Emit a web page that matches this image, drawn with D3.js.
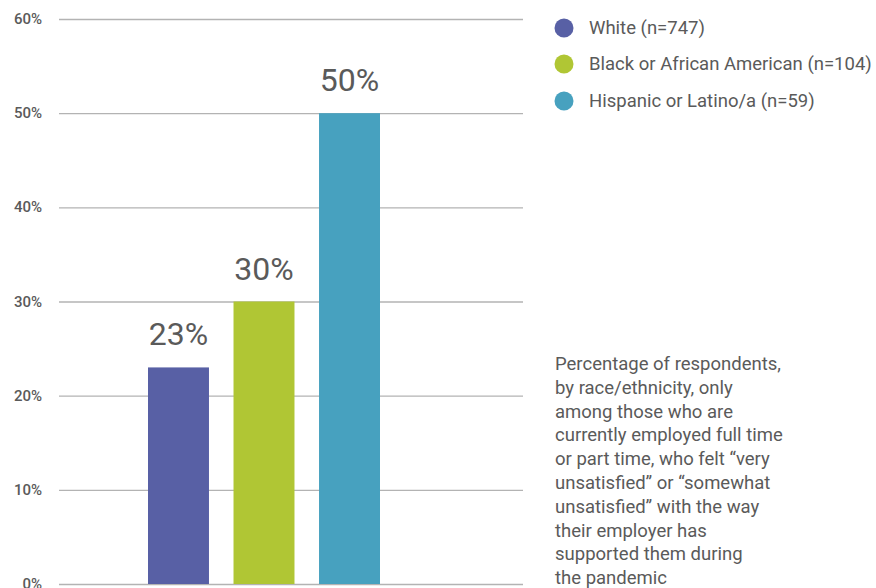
<!DOCTYPE html>
<html>
<head>
<meta charset="utf-8">
<script src="https://cdn.jsdelivr.net/npm/d3@7"></script>
<style>
  body { margin: 0; background: #fff; }
  svg { display: block; font-family: Roboto, "Noto Sans", sans-serif; }
</style>
</head>
<body>
<svg id="chart" width="876" height="588"></svg>
<script>
// Survey groups, their shares and legend labels
const groups = ["White", "Black or African American", "Hispanic or Latino/a"];
const legendLabels = ["White (n=747)", "Black or African American (n=104)", "Hispanic or Latino/a (n=59)"];
const values = [23, 30, 50];
const colors = ["#5860a5", "#b0c634", "#47a1bf"];
const yTicks = [0, 10, 20, 30, 40, 50, 60];
const noteLines = [
  "Percentage of respondents,",
  "by race/ethnicity, only",
  "among those who are",
  "currently employed full time",
  "or part time, who felt \u201cvery",
  "unsatisfied\u201d or \u201csomewhat",
  "unsatisfied\u201d with the way",
  "their employer has",
  "supported them during",
  "the pandemic"
];

const svg = d3.select("#chart");
const textColor = "#5a5a5a";

const plot = { left: 59, right: 523, top: 19, bottom: 584 };

const y = d3.scaleLinear().domain([0, 60]).range([plot.bottom, plot.top]);
const x = d3.scaleBand().domain(groups).range([148, 380]).paddingInner(0.287).paddingOuter(0);

// Gridlines and tick labels
const yAxis = d3.axisLeft(y)
  .tickValues(yTicks)
  .tickSize(-(plot.right - plot.left))
  .tickPadding(17)
  .tickFormat(d => d + "%");

const gAxis = svg.append("g")
  .attr("transform", `translate(${plot.left},0)`)
  .call(yAxis)
  .attr("font-family", null)
  .attr("font-size", null);
gAxis.select(".domain").remove();
gAxis.selectAll(".tick line").attr("stroke", "#b3b3b3").attr("stroke-width", 1.3);
gAxis.selectAll(".tick text")
  .attr("fill", textColor)
  .style("font-size", "15px")
  .style("font-weight", 500)
  .attr("dy", "0.3em");

// Bars
svg.append("g").selectAll("rect")
  .data(groups)
  .join("rect")
  .attr("x", d => x(d))
  .attr("width", x.bandwidth())
  .attr("y", (d, i) => y(values[i]))
  .attr("height", (d, i) => y(0) - y(values[i]))
  .attr("fill", (d, i) => colors[i]);

// Value labels above the bars
svg.append("g").selectAll("text")
  .data(groups)
  .join("text")
  .attr("x", d => x(d) + x.bandwidth() / 2)
  .attr("y", (d, i) => y(values[i]) - 22)
  .attr("text-anchor", "middle")
  .attr("fill", textColor)
  .style("font-size", "32px")
  .text((d, i) => values[i] + "%");

// Legend
const legend = svg.append("g").selectAll("g")
  .data(legendLabels)
  .join("g")
  .attr("transform", (d, i) => `translate(564,${[28, 64, 101][i]})`);
legend.append("circle")
  .attr("r", 9.5)
  .attr("fill", (d, i) => colors[i]);
legend.append("text")
  .attr("x", 25)
  .attr("dy", "0.35em")
  .attr("fill", textColor)
  .style("font-size", "18.5px")
  .text(d => d);

// Explanatory note
svg.append("text")
  .attr("fill", textColor)
  .style("font-size", "18.5px")
  .selectAll("tspan")
  .data(noteLines)
  .join("tspan")
  .attr("x", 555)
  .attr("y", (d, i) => 370 + i * 23.8)
  .text(d => d);
</script>
</body>
</html>
